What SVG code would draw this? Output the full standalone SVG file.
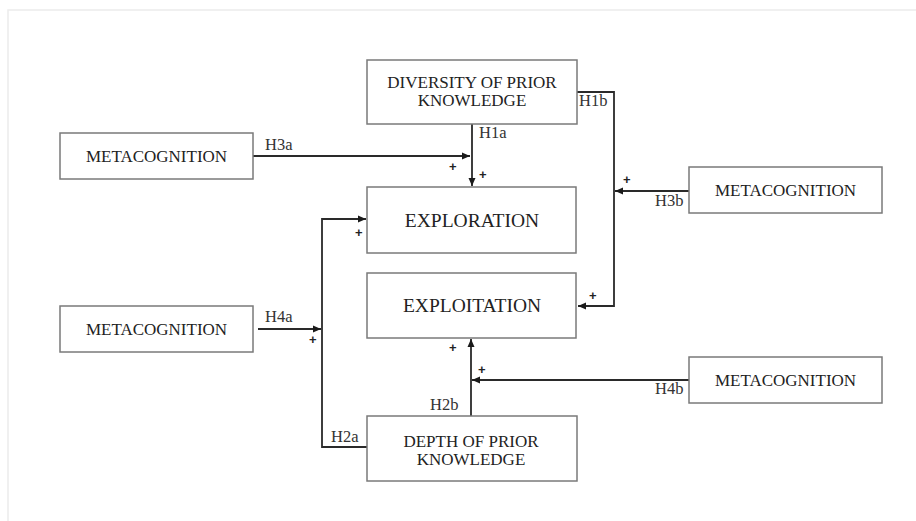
<svg xmlns="http://www.w3.org/2000/svg" width="916" height="521" viewBox="0 0 916 521">
<style>
.box{fill:#fff;stroke:#7a7a7a;stroke-width:1.5}
.t{font-family:"Liberation Serif","Times New Roman",serif;fill:#222;text-anchor:middle}
.big{font-size:19.5px}
.mid{font-size:17px}
.lab{font-family:"Liberation Serif","Times New Roman",serif;fill:#333;font-size:16.5px}
.plus{font-family:"Liberation Sans",Arial,sans-serif;fill:#222;font-size:13px;font-weight:bold}
.c{fill:none;stroke:#2a2a2a;stroke-width:1.8}
</style>
<defs>
<marker id="ah" markerUnits="userSpaceOnUse" markerWidth="9" markerHeight="8" refX="8" refY="4" orient="auto">
<path d="M0,0.5 L8,4 L0,7.5 z" fill="#1a1a1a"/>
</marker>
</defs>
<rect width="916" height="521" fill="#fff"/>
<path d="M8,521 V10 H916" fill="none" stroke="#ececec" stroke-width="1.5"/>

<g id="connectors">
<path class="c" d="M472,124 V186" marker-end="url(#ah)"/>
<path class="c" d="M253,156 H470" marker-end="url(#ah)"/>
<path class="c" d="M577,92 H614 V306 H578" marker-end="url(#ah)"/>
<path class="c" d="M689,191 H615" marker-end="url(#ah)"/>
<path class="c" d="M367,447 H322 V219 H366" marker-end="url(#ah)"/>
<path class="c" d="M258,329 H321" marker-end="url(#ah)"/>
<path class="c" d="M471,416 V339" marker-end="url(#ah)"/>
<path class="c" d="M689,380 H472" marker-end="url(#ah)"/>
<text class="lab" x="479" y="138">H1a</text>
<text class="lab" x="579" y="106">H1b</text>
<text class="lab" x="265" y="150">H3a</text>
<text class="lab" x="655" y="206">H3b</text>
<text class="lab" x="265" y="322">H4a</text>
<text class="lab" x="655" y="394">H4b</text>
<text class="lab" x="331" y="442">H2a</text>
<text class="lab" x="430" y="410">H2b</text>
<text class="plus" x="449" y="171">+</text>
<text class="plus" x="479" y="179">+</text>
<text class="plus" x="623" y="184">+</text>
<text class="plus" x="589" y="300">+</text>
<text class="plus" x="355" y="237">+</text>
<text class="plus" x="309" y="344">+</text>
<text class="plus" x="449" y="352">+</text>
<text class="plus" x="478" y="374">+</text>
</g>

<g id="diversity">
<rect class="box" x="367" y="60" width="210" height="64"/>
<text class="t mid" x="472" y="88">DIVERSITY OF PRIOR</text>
<text class="t mid" x="472" y="106">KNOWLEDGE</text>
</g>
<g id="exploration">
<rect class="box" x="367" y="187" width="209" height="66"/>
<text class="t big" x="472" y="227">EXPLORATION</text>
</g>
<g id="exploitation">
<rect class="box" x="367" y="273" width="209" height="65"/>
<text class="t big" x="472" y="312">EXPLOITATION</text>
</g>
<g id="depth">
<rect class="box" x="367" y="416" width="210" height="65"/>
<text class="t mid" x="471" y="447">DEPTH OF PRIOR</text>
<text class="t mid" x="471" y="465">KNOWLEDGE</text>
</g>
<g id="meta-h3a">
<rect class="box" x="60" y="133" width="193" height="46"/>
<text class="t mid" x="156.5" y="162">METACOGNITION</text>
</g>
<g id="meta-h4a">
<rect class="box" x="60" y="306" width="193" height="46"/>
<text class="t mid" x="156.5" y="335">METACOGNITION</text>
</g>
<g id="meta-h3b">
<rect class="box" x="689" y="167" width="193" height="46"/>
<text class="t mid" x="785.5" y="196">METACOGNITION</text>
</g>
<g id="meta-h4b">
<rect class="box" x="689" y="357" width="193" height="46"/>
<text class="t mid" x="785.5" y="386">METACOGNITION</text>
</g>
</svg>
